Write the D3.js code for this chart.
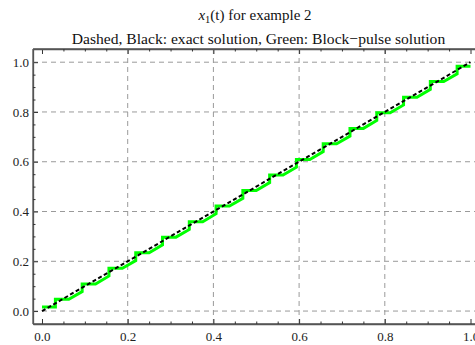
<!DOCTYPE html>
<html><head><meta charset="utf-8">
<script src="https://cdn.jsdelivr.net/npm/d3@7"></script>
<style>body{margin:0;background:#fff}svg{display:block}text{font-family:"Liberation Serif","Times New Roman",serif}</style>
</head><body><svg id="c" width="475" height="345"></svg>
<script>
// Data
const blockEdges = [0,0.03125,0.0625,0.09375,0.125,0.15625,0.1875,0.21875,0.25,0.28125,0.3125,0.34375,0.375,0.40625,0.4375,0.46875,0.5,0.53125,0.5625,0.59375,0.625,0.65625,0.6875,0.71875,0.75,0.78125,0.8125,0.84375,0.875,0.90625,0.9375,0.96875,1.0];
const blockValues = [0.016,0.047,0.078,0.109,0.141,0.172,0.203,0.234,0.266,0.297,0.328,0.359,0.391,0.422,0.453,0.484,0.516,0.547,0.578,0.609,0.641,0.672,0.703,0.734,0.766,0.797,0.828,0.859,0.891,0.922,0.953,0.984];
const exactT = [0, 0.25, 0.5, 0.75, 1.0];
const exactX = [0, 0.25, 0.5, 0.75, 1.0];
const xTicks = [0,0.2,0.4,0.6,0.8,1.0];
const yTicks = [0,0.2,0.4,0.6,0.8,1.0];
const xTickLabels = ["0.0","0.2","0.4","0.6","0.8","1.0"];
const yTickLabels = ["0.0","0.2","0.4","0.6","0.8","1.0"];
const minorTicks = [0.05,0.1,0.15,0.25,0.3,0.35,0.45,0.5,0.55,0.65,0.7,0.75,0.85,0.9,0.95];
const xGrid = [0.2,0.4,0.6,0.8];
const yGrid = [0,0.2,0.4,0.6,0.8,1.0];

const svg = d3.select("#c");
const L=33, R=479.5, T=49, B=324;
const x = d3.scaleLinear().domain([-0.021,1.021]).range([L,R]);
const y = d3.scaleLinear().domain([-0.052,1.053]).range([B,T]);

// grid
const g = svg.append("g");
g.selectAll(".vg").data(xGrid).join("line").attr("x1",d=>x(d)).attr("x2",d=>x(d)).attr("y1",T).attr("y2",B)
 .attr("stroke","#9a9a9a").attr("stroke-dasharray","5,4").attr("stroke-width",1);
g.selectAll(".hg").data(yGrid).join("line").attr("y1",d=>y(d)).attr("y2",d=>y(d)).attr("x1",L).attr("x2",R)
 .attr("stroke","#9a9a9a").attr("stroke-dasharray","5,4").attr("stroke-width",1);

// Block-pulse path: flat over odd-start blocks, slope across following block
const pts = [];
pts.push([blockEdges[0], blockValues[0]]);
pts.push([blockEdges[1], blockValues[0]]);
for (let k=1;k<blockValues.length;k+=2){
  pts.push([blockEdges[k], blockValues[k]]);
  pts.push([blockEdges[k+1], blockValues[k]]);
  if (k+2 < blockEdges.length && k+1 < blockValues.length){
    pts.push([blockEdges[k+2], blockValues[k+1]]);
  }
}
const line = d3.line().x(d=>x(d[0])).y(d=>y(d[1]));
svg.append("path").attr("d",line(pts)).attr("fill","none").attr("stroke","#00ff00").attr("stroke-width",3).attr("stroke-linejoin","miter");

svg.append("path").attr("d",line(exactT.map((t,i)=>[t,exactX[i]]))).attr("fill","none")
 .attr("stroke","#000").attr("stroke-width",2).attr("stroke-dasharray","4,2.5");

// axes frame
const ax = svg.append("g").attr("transform",`translate(0,${B})`)
 .call(d3.axisBottom(x).tickValues(xTicks).tickFormat((d,i)=>xTickLabels[i]).tickSizeInner(-5).tickSizeOuter(0).tickPadding(8));
const axm = svg.append("g").attr("transform",`translate(0,${B})`)
 .call(d3.axisBottom(x).tickValues(minorTicks).tickFormat("").tickSizeInner(-2.5).tickSizeOuter(0));
const at = svg.append("g").attr("transform",`translate(0,${T})`)
 .call(d3.axisTop(x).tickValues(xTicks).tickFormat("").tickSizeInner(-5).tickSizeOuter(0));
const atm = svg.append("g").attr("transform",`translate(0,${T})`)
 .call(d3.axisTop(x).tickValues(minorTicks).tickFormat("").tickSizeInner(-2.5).tickSizeOuter(0));
const ay = svg.append("g").attr("transform",`translate(${L},0)`)
 .call(d3.axisLeft(y).tickValues(yTicks).tickFormat((d,i)=>yTickLabels[i]).tickSizeInner(-5).tickSizeOuter(0).tickPadding(4));
const aym = svg.append("g").attr("transform",`translate(${L},0)`)
 .call(d3.axisLeft(y).tickValues(minorTicks).tickFormat("").tickSizeInner(-2.5).tickSizeOuter(0));
[ax,axm,at,atm,ay,aym].forEach(a=>{
  a.select(".domain").attr("stroke","#555").attr("stroke-width",1.3);
  a.selectAll(".tick line").attr("stroke","#333");
  a.selectAll("text").attr("font-size",13).attr("fill","#222").attr("font-family","Liberation Serif");
});
ax.select(".domain").attr("d",`M${L},0H${R}`);
at.select(".domain").attr("d",`M${L},0H${R}`);
ay.select(".domain").attr("d",`M0,${T}V${B}`);

// titles
const t1 = svg.append("text").attr("x",255).attr("y",20).attr("text-anchor","middle").attr("font-size",15).attr("fill","#111");
t1.append("tspan").attr("font-style","italic").text("x");
t1.append("tspan").attr("font-size",10.5).attr("dy",3).text("1");
t1.append("tspan").attr("dy",-3).text("(t) for example 2");
svg.append("text").attr("x",258.5).attr("y",43.5).attr("text-anchor","middle").attr("font-size",15.6).attr("fill","#111")
 .text("Dashed, Black: exact solution, Green: Block\u2212pulse solution");
</script></body></html>
